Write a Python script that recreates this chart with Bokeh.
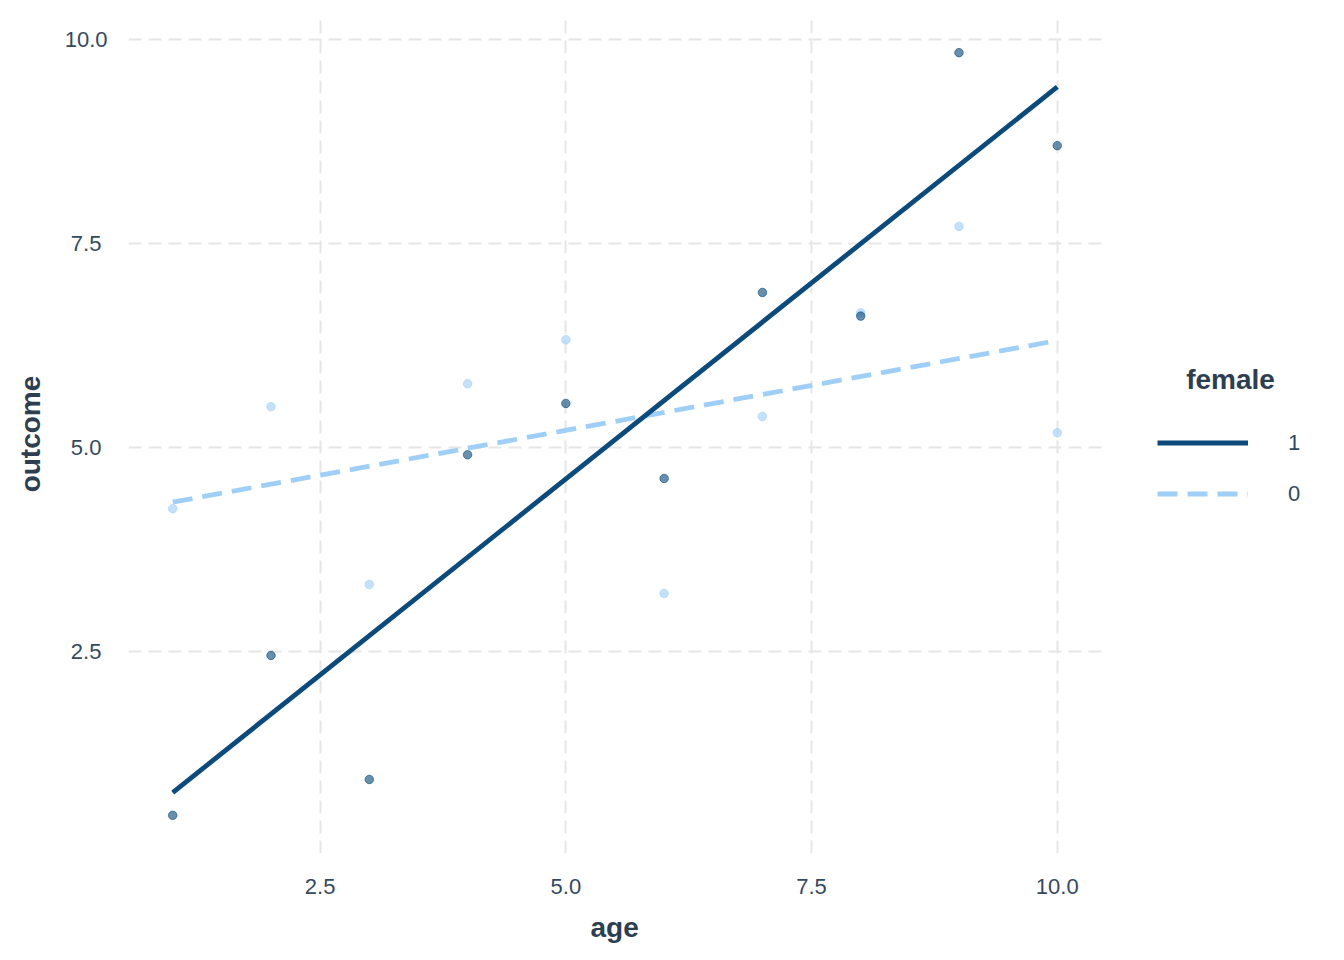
from bokeh.plotting import figure
from bokeh.models import (Range1d, FixedTicker, NumeralTickFormatter, Legend,
                          LegendItem, ColumnDataSource, Label, Title)
from bokeh.embed import file_html
from bokeh.resources import INLINE

# ---- data ----
age = [1, 2, 3, 4, 5, 6, 7, 8, 9, 10]
outcome_female1 = [0.49, 2.45, 0.93, 4.91, 5.54, 4.62, 6.90, 6.61, 9.84, 8.70]
outcome_female0 = [4.25, 5.50, 3.32, 5.78, 6.32, 3.21, 5.38, 6.65, 7.71, 5.18]
fit_age = [1, 10]
fit_female1 = [0.77, 9.42]
fit_female0 = [4.33, 6.31]
tick_values = [2.5, 5.0, 7.5, 10.0]
tick_labels = ["2.5", "5.0", "7.5", "10.0"]
group_labels = ["1", "0"]
legend_title = "female"
x_title = "age"
y_title = "outcome"

DARK = "#0b4a7b"
LIGHT = "#9fcff6"
TEXT = "#2c3e50"
TICKTXT = "#34495e"
GRID = "#e6e6e6"
FONT = "Liberation Sans"

# layout (pixels)
W, H = 1340, 956
PANEL_L, PANEL_R, PANEL_T, PANEL_B = 128, 1101, 14, 853

all_y = outcome_female1 + outcome_female0 + fit_female1 + fit_female0
ylo, yhi = min(all_y), max(all_y)
ypad = 0.05 * (yhi - ylo)
xlo, xhi = min(age), max(age)
xpad = 0.05 * (xhi - xlo)
x0, x1 = xlo - xpad, xhi + xpad
# the frame is extended to the right edge so that the legend can live in it
x_end = x1 + (W - PANEL_R) * (x1 - x0) / (PANEL_R - PANEL_L)

p = figure(width=W, height=H, output_backend="svg", toolbar_location=None,
           x_range=Range1d(x0, x_end),
           y_range=Range1d(ylo - ypad, yhi + ypad),
           min_border_left=PANEL_L, min_border_right=0,
           min_border_top=PANEL_T, min_border_bottom=H - PANEL_B)
p.outline_line_color = None
p.background_fill_color = "white"
p.border_fill_color = "white"

for ax in (p.xaxis[0], p.yaxis[0]):
    ax.ticker = FixedTicker(ticks=tick_values)
    ax.formatter = NumeralTickFormatter(format="0.0")
    ax.axis_line_color = None
    ax.major_tick_line_color = None
    ax.minor_tick_line_color = None
    ax.major_tick_out = 0
    ax.major_tick_in = 0
    ax.major_label_text_font = FONT
    ax.major_label_text_font_size = "22px"
    ax.major_label_text_color = TICKTXT
    ax.axis_label_text_font = FONT
    ax.axis_label_text_font_size = "28px"
    ax.axis_label_text_font_style = "bold"
    ax.axis_label_text_color = TEXT

p.xaxis.bounds = (x0, x1)

# y tick labels are centred in the reference: pad the short ones by half a digit
p.yaxis.major_label_overrides = {
    v: (t if len(t) == 4 else t + "\u2008") for v, t in zip(tick_values, tick_labels)
}

p.yaxis.axis_label = y_title
p.xaxis.major_label_standoff = 25
p.yaxis.major_label_standoff = 21
p.yaxis.axis_label_standoff = 16

# x-axis title, centred under the data panel (not under the extended frame)
p.add_layout(Title(text=x_title, align="left", offset=462, vertical_align="bottom",
                   standoff=26, text_font=FONT, text_font_size="28px",
                   text_font_style="bold", text_color=TEXT), "below")

p.xgrid.grid_line_color = GRID
p.xgrid.grid_line_width = 2
p.xgrid.grid_line_dash = "13 7"
p.ygrid.visible = False
# horizontal grid lines limited to the data panel
p.segment(x0=[x0] * len(tick_values), x1=[x1] * len(tick_values),
          y0=tick_values, y1=tick_values, line_color=GRID, line_width=2,
          line_dash="13 7", level="underlay")

src1 = ColumnDataSource(dict(x=age, y=outcome_female1))
src0 = ColumnDataSource(dict(x=age, y=outcome_female0))

p.scatter("x", "y", source=src0, size=8.5, fill_color=LIGHT, fill_alpha=0.62,
          line_color=LIGHT, line_alpha=0.62, line_width=1)
p.scatter("x", "y", source=src1, size=8.5, fill_color=DARK, fill_alpha=0.62,
          line_color=DARK, line_alpha=0.62, line_width=1)

r0 = p.line(fit_age, fit_female0, line_color=LIGHT, line_width=4.8, line_dash="20 10")
r1 = p.line(fit_age, fit_female1, line_color=DARK, line_width=4.8)

legend = Legend(items=[LegendItem(label=group_labels[0], renderers=[r1]),
                       LegendItem(label=group_labels[1], renderers=[r0])],
                location=(1157 - PANEL_L, PANEL_B - 519), orientation="vertical",
                glyph_width=91, glyph_height=51, label_height=51, spacing=0,
                label_standoff=40, padding=0, margin=0,
                border_line_color=None, background_fill_alpha=0,
                label_text_font=FONT, label_text_font_size="22px",
                label_text_color=TICKTXT)
p.add_layout(legend, "center")

p.add_layout(Label(x=1230 - PANEL_L, y=PANEL_B - 379, x_units="screen", y_units="screen",
                   text=legend_title, text_align="center", text_baseline="middle",
                   text_font=FONT, text_font_size="28px", text_font_style="bold",
                   text_color=TEXT))

open("out.html", "w").write(file_html(p, INLINE))
